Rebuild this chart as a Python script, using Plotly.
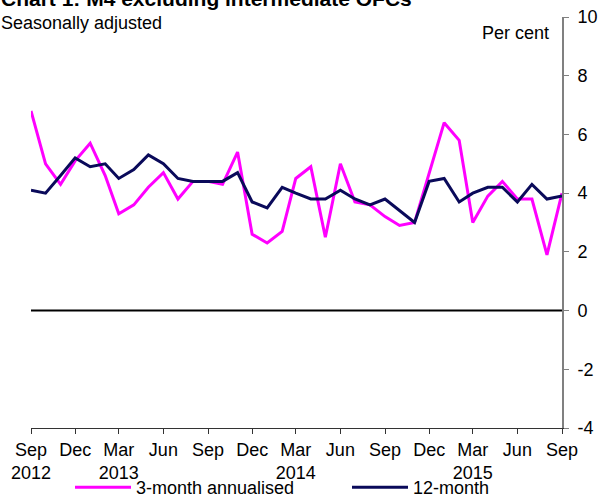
import pandas as pd
import plotly.graph_objects as go

months = pd.date_range("2012-09-01", periods=37, freq="MS")

three_month = [6.8, 5.0, 4.3, 5.1, 5.7, 4.6, 3.3, 3.6, 4.2, 4.7, 3.8, 4.4,
               4.4, 4.3, 5.4, 2.6, 2.3, 2.7, 4.5, 4.9, 2.5, 5.0, 3.7, 3.6,
               3.2, 2.9, 3.0, 4.7, 6.4, 5.8, 3.0, 3.9, 4.4, 3.8, 3.8, 1.9, 4.0]
twelve_month = [4.1, 4.0, 4.6, 5.2, 4.9, 5.0, 4.5, 4.8, 5.3, 5.0, 4.5, 4.4,
                4.4, 4.4, 4.7, 3.7, 3.5, 4.2, 4.0, 3.8, 3.8, 4.1, 3.8, 3.6,
                3.8, 3.4, 3.0, 4.4, 4.5, 3.7, 4.0, 4.2, 4.2, 3.7, 4.3, 3.8, 3.9]

tick_dates = months[::3]
tick_text = ["Sep<br>2012", "Dec", "Mar<br>2013", "Jun", "Sep", "Dec",
             "Mar<br>2014", "Jun", "Sep", "Dec", "Mar<br>2015", "Jun", "Sep"]
y_ticks = [-4, -2, 0, 2, 4, 6, 8, 10]
y_tick_text = ["-4", "-2", "0", "2", "4", "6", "8", "10"]

FONT = "Liberation Sans, Arial, sans-serif"
MAGENTA = "#ff00ff"
NAVY = "#0a0a5a"

W, H = 598, 498
L, R, T, B = 31, 36, 17, 70
PW, PH = W - L - R, H - T - B


def px_x(x):
    return (x - L) / PW


def px_y(y):
    return (H - B - y) / PH


fig = go.Figure()
fig.add_trace(go.Scatter(x=months, y=three_month, mode="lines",
                         name="3-month annualised", legend="legend",
                         line=dict(color=MAGENTA, width=3)))
fig.add_trace(go.Scatter(x=months, y=twelve_month, mode="lines",
                         name="12-month", legend="legend2",
                         line=dict(color=NAVY, width=3)))

fig.add_hline(y=0, line=dict(color="black", width=2), layer="below")

legend_common = dict(orientation="h", xref="container", yref="container",
                     xanchor="left", yanchor="top", font=dict(size=18),
                     itemwidth=56, bgcolor="rgba(0,0,0,0)")

fig.update_layout(
    width=W, height=H,
    margin=dict(l=L, r=R, t=T, b=B, autoexpand=False),
    paper_bgcolor="white", plot_bgcolor="white",
    font=dict(family=FONT, size=18, color="black"),
    showlegend=True,
    legend=dict(x=70 / W, y=(H - 469) / H, **legend_common),
    legend2=dict(x=347 / W, y=(H - 469) / H, **legend_common),
    xaxis=dict(range=[months[0], months[-1]], tickvals=tick_dates, ticktext=tick_text,
               showgrid=False, zeroline=False, showline=True, linecolor="#333333",
               linewidth=1, ticks="outside", ticklen=5, tickcolor="#333333",
               tickangle=0, tickfont=dict(size=18), automargin=False),
    yaxis=dict(range=[-4, 10], tickvals=y_ticks, ticktext=y_tick_text, side="right",
               showgrid=False, zeroline=False, showline=True, linecolor="#808080",
               linewidth=2, ticks="outside", ticklen=5, tickcolor="#808080",
               ticklabelstandoff=5, tickfont=dict(size=18), automargin=False),
    annotations=[
        dict(text="<b>Chart 1: M4 excluding intermediate OFCs</b>", xref="paper", yref="paper",
             x=px_x(-1), y=px_y(12), xanchor="left", yanchor="bottom", showarrow=False,
             font=dict(size=21)),
        dict(text="Seasonally adjusted", xref="paper", yref="paper",
             x=px_x(-1), y=px_y(23), xanchor="left", yanchor="middle", showarrow=False,
             font=dict(size=18)),
        dict(text="Per cent", xref="paper", yref="paper",
             x=px_x(551), y=px_y(32.5), xanchor="right", yanchor="middle", showarrow=False,
             font=dict(size=18)),
    ],
)

fig.write_html("out.html", config={"displayModeBar": False},
               post_script="document.body.style.margin='0';document.body.style.overflow='hidden';")
